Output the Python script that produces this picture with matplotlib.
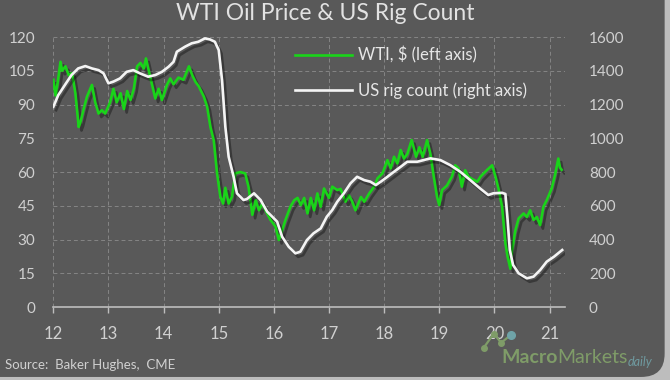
import numpy as np
import matplotlib
matplotlib.use("Agg")
import matplotlib.pyplot as plt
import matplotlib.patheffects as pe
from matplotlib.patches import FancyBboxPatch

# Data (x in fractional years 20xx)
wti_x = [12.00, 12.04, 12.08, 12.13, 12.16, 12.22, 12.28, 12.34, 12.40, 12.46,
         12.49, 12.55, 12.61, 12.70, 12.76, 12.82, 12.88, 12.94, 13.03, 13.09,
         13.15, 13.22, 13.28, 13.34, 13.40, 13.46, 13.52, 13.58, 13.64, 13.68,
         13.76, 13.85, 13.91, 13.97, 14.06, 14.12, 14.18, 14.27, 14.36, 14.46,
         14.52, 14.58, 14.64, 14.73, 14.79, 14.85, 14.91, 14.97, 15.03, 15.08,
         15.12, 15.18, 15.24, 15.30, 15.39, 15.48, 15.54, 15.61, 15.67, 15.73,
         15.79, 15.85, 15.94, 16.03, 16.09, 16.15, 16.21, 16.30, 16.37, 16.43,
         16.49, 16.55, 16.61, 16.67, 16.73, 16.79, 16.85, 16.91, 17.00, 17.06,
         17.15, 17.21, 17.30, 17.36, 17.42, 17.48, 17.58, 17.64, 17.73, 17.82,
         17.88, 17.97, 18.06, 18.12, 18.18, 18.24, 18.30, 18.36, 18.42, 18.50,
         18.58, 18.64, 18.70, 18.78, 18.84, 18.90, 18.96, 19.00, 19.05, 19.14,
         19.23, 19.29, 19.35, 19.41, 19.47, 19.53, 19.59, 19.69, 19.75, 19.87,
         19.96, 20.02, 20.08, 20.14, 20.20, 20.24, 20.29, 20.32, 20.38, 20.44,
         20.53, 20.59, 20.65, 20.71, 20.77, 20.83, 20.89, 20.95, 21.04, 21.10,
         21.16, 21.19, 21.22]
wti_y = [101, 94, 100, 109, 105, 107, 103, 104, 95, 80,
         82, 88, 93.5, 98.7, 91, 86, 87.5, 86, 91, 97,
         91, 95, 88, 96, 92, 97, 107, 108.5, 106, 110.5,
         102, 92.7, 97, 92, 98.7, 101.6, 99, 102, 101, 107,
         103, 100, 98, 93.5, 89, 80, 74, 59.4, 49, 46,
         53, 46, 49, 59.4, 60, 59.4, 53.5, 41, 47.5, 43,
         46, 43, 38.7, 35.7, 29.8, 34, 38.7, 44.6, 47.5, 48.5,
         45.3, 48.5, 41.6, 48.5, 43, 50.5, 44.6, 52.7, 48.5, 53.5,
         52, 52.5, 46.8, 49.7, 47, 43, 48.9, 46.8, 50.5, 53.5,
         57.2, 59.4, 65.3, 61.6, 66.8, 63.8, 69.8, 66, 68, 74.2,
         66.8, 71, 66.8, 74.2, 68, 58, 49, 45.3, 52, 54,
         58, 63, 61.6, 53.5, 60.8, 58, 57, 55.7, 58, 61,
         63, 58, 52, 44.6, 28.3, 22.4, 17, 25, 34, 39.4,
         41.6, 40, 43, 38.7, 40, 36.4, 44.6, 47.5, 52.7, 58.7,
         66, 62, 61]

rig_x = [12.00, 12.09, 12.21, 12.33, 12.45, 12.58, 12.70, 12.82, 12.91, 13.00,
         13.09, 13.21, 13.33, 13.45, 13.57, 13.72, 13.85, 13.97, 14.09, 14.18,
         14.24, 14.39, 14.51, 14.63, 14.75, 14.84, 14.93, 15.00, 15.06, 15.12,
         15.18, 15.27, 15.33, 15.45, 15.51, 15.64, 15.76, 15.88, 16.06, 16.15,
         16.27, 16.39, 16.48, 16.60, 16.72, 16.85, 16.96, 17.06, 17.15, 17.27,
         17.39, 17.51, 17.64, 17.75, 17.85, 17.94, 18.06, 18.18, 18.30, 18.42,
         18.60, 18.72, 18.84, 19.02, 19.20, 19.38, 19.56, 19.74, 19.89, 19.98,
         20.14, 20.20, 20.24, 20.28, 20.34, 20.44, 20.59, 20.71, 20.83, 20.95,
         21.08, 21.23]
rig_y = [1187, 1256, 1316, 1375, 1414, 1428, 1414, 1404, 1385, 1326,
         1336, 1355, 1394, 1404, 1385, 1365, 1375, 1394, 1424, 1453,
         1513, 1543, 1563, 1572, 1592, 1586, 1572, 1523, 1345, 1068,
         891, 772, 674, 634, 640, 674, 634, 565, 506, 417,
         357, 318, 328, 397, 437, 466, 535, 575, 624, 674,
         733, 772, 752, 743, 723, 743, 772, 802, 831, 861,
         861, 871, 881, 871, 841, 802, 753, 703, 664, 674,
         677, 670, 516, 338, 249, 200, 170, 180, 219, 269,
         298, 338]

year_ticks = list(range(12, 22))
left_ticks = list(range(0, 121, 15))
right_ticks = list(range(0, 1601, 200))

bg = "#595959"
txt = "#d0d0d0"
grid_c = "#858585"
green = "#19d419"

plt.rcParams["font.family"] = ["Lato", "DejaVu Sans"]

fig = plt.figure(figsize=(6.7, 3.8), dpi=100)
fig.patch.set_facecolor("#bdbdbd")
fig.patches.append(FancyBboxPatch((-0.05, 0.008), 1.042, 1.1,
                                  boxstyle="round,pad=0,rounding_size=0.035",
                                  transform=fig.transFigure, facecolor=bg,
                                  edgecolor="none", mutation_aspect=1.76,
                                  zorder=-10))

ax = fig.add_axes([0.0796, 0.192, 0.764, 0.7105])
ax.set_facecolor("none")
ax2 = ax.twinx()

shadow = [pe.SimpleLineShadow(offset=(2, -2.5), shadow_color="black", alpha=0.35),
          pe.Normal()]

l1, = ax.plot(wti_x, wti_y, color=green, lw=1.9, path_effects=shadow,
              label="WTI, $ (left axis)")
l2, = ax2.plot(rig_x, rig_y, color="#f4f4f4", lw=1.9, path_effects=shadow,
               label="US rig count (right axis)")

ax.set_xlim(12, 21.285)
ax.set_ylim(0, 120)
ax2.set_ylim(0, 1600)
ax.set_xticks(year_ticks)
ax.set_yticks(left_ticks)
ax2.set_yticks(right_ticks)

ax.grid(True, color=grid_c, ls=(0, (4, 3)), lw=0.7)
ax.set_axisbelow(True)

for a in (ax, ax2):
    for s in a.spines.values():
        s.set_visible(False)
ax.spines["bottom"].set_visible(True)
ax.spines["bottom"].set_color("#bdbdbd")
ax.spines["bottom"].set_linewidth(1.2)

ax.tick_params(axis="x", colors=txt, labelsize=12, length=4.5, width=1,
               color="#bdbdbd", pad=9)
ax.tick_params(axis="y", colors=txt, labelsize=11, length=0, pad=13)
ax2.tick_params(axis="y", colors=txt, labelsize=11, length=0, pad=17)

fig.text(0.485, 0.965, "WTI Oil Price & US Rig Count", ha="center", va="center",
         color="#e2e2e2", fontsize=16.5)

leg = ax.legend(handles=[l1, l2], loc="upper left", bbox_to_anchor=(0.472, 0.965),
                frameon=False, fontsize=12, handlelength=3.4, handletextpad=0.4,
                labelspacing=1.15, borderpad=0, borderaxespad=0)
for t in leg.get_texts():
    t.set_color("#e6e6e6")
for h in leg.legend_handles:
    h.set_path_effects([])

fig.text(0.008, 0.04, "Source:  Baker Hughes,  CME", color=txt, fontsize=9.5,
         ha="left", va="center")

# logo
logo_c = "#7f9c68"
fig.text(0.749, 0.058, "Macro", color=logo_c, fontsize=14, fontweight="bold",
         ha="left", va="center")
fig.text(0.832, 0.058, "Markets", color=logo_c, fontsize=14, ha="left", va="center")
fig.text(0.937, 0.048, "daily", color="#6f9aa0", fontsize=9, style="italic",
         ha="left", va="center")
icon_x = [0.722, 0.737, 0.748, 0.762]
icon_y = [0.085, 0.122, 0.098, 0.118]
fig.add_artist(plt.Line2D(icon_x, icon_y, color=logo_c, lw=1.6,
                          marker="o", markersize=4, transform=fig.transFigure))
fig.add_artist(plt.Line2D([0.762], [0.118], color="#6fa3a8", marker="o",
                          markersize=5.5, lw=0, transform=fig.transFigure))

fig.savefig("out.png", dpi=100, facecolor=fig.get_facecolor())
